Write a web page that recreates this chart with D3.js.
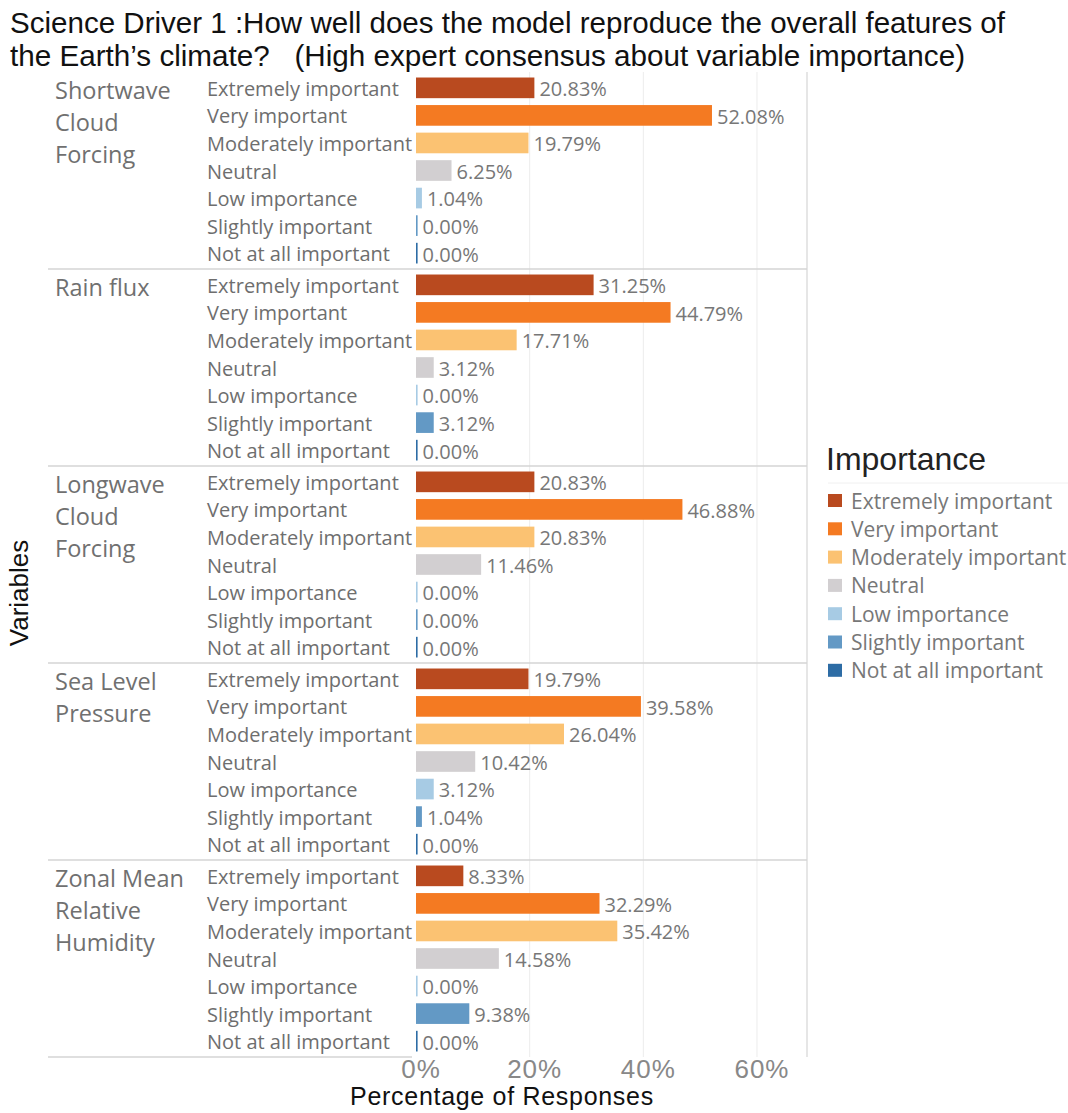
<!DOCTYPE html>
<html>
<head>
<meta charset="utf-8">
<script src="https://cdn.jsdelivr.net/npm/d3@7"></script>
<style>
  html, body { margin: 0; padding: 0; background: #fff; }
  svg { display: block; }
</style>
</head>
<body>
<div id="chart"></div>
<script>
// Survey responses: share of experts rating each variable's importance
const titleLines = [
  "Science Driver 1 :How well does the model reproduce the overall features of",
  "the Earth\u2019s climate?   (High expert consensus about variable importance)"
];
const variables = [
  "Shortwave Cloud Forcing",
  "Rain flux",
  "Longwave Cloud Forcing",
  "Sea Level Pressure",
  "Zonal Mean Relative Humidity"
];
const variableLabelLines = [
  ["Shortwave", "Cloud", "Forcing"],
  ["Rain flux"],
  ["Longwave", "Cloud", "Forcing"],
  ["Sea Level", "Pressure"],
  ["Zonal Mean", "Relative", "Humidity"]
];
const importanceLevels = [
  "Extremely important",
  "Very important",
  "Moderately important",
  "Neutral",
  "Low importance",
  "Slightly important",
  "Not at all important"
];
const importanceColors = [
  "#b94a1f", "#f47a22", "#fbc272", "#d2cfd1", "#a7cbe4", "#6399c5", "#2d6ca5"
];
// percentage of responses, one row per variable, columns follow importanceLevels
const shortwaveValues = [20.83, 52.08, 19.79, 6.25, 1.04, 0.00, 0.00];
const rainFluxValues = [31.25, 44.79, 17.71, 3.12, 0.00, 3.12, 0.00];
const longwaveValues = [20.83, 46.88, 20.83, 11.46, 0.00, 0.00, 0.00];
const seaLevelPressureValues = [19.79, 39.58, 26.04, 10.42, 3.12, 1.04, 0.00];
const relHumidityValues = [8.33, 32.29, 35.42, 14.58, 0.00, 9.38, 0.00];
const seriesValues = [shortwaveValues, rainFluxValues, longwaveValues, seaLevelPressureValues, relHumidityValues];
const xTicks = [0, 20, 40, 60];
const xTickLabels = ["0%", "20%", "40%", "60%"];

const W = 1068, H = 1113;
const plot = { left: 416, right: 807, top: 72, bottom: 1057 };
const panelLeft = 48;

const svg = d3.select("#chart").append("svg")
  .attr("width", W).attr("height", H)
  .style("background", "#fff");

const x = d3.scaleLinear().domain([0, 68.8]).range([plot.left, plot.right]);
const yGroup = d3.scaleBand().domain(variables).range([plot.top, plot.bottom]);
const yRow = d3.scaleBand().domain(importanceLevels).range([0, yGroup.bandwidth()])
  .paddingInner(0.25).paddingOuter(0.2);
const color = d3.scaleOrdinal().domain(importanceLevels).range(importanceColors);

// Title
svg.append("g").selectAll("text").data(titleLines).join("text")
  .attr("x", 10)
  .attr("y", (d, i) => 33 + i * 33)
  .attr("textLength", (d, i) => i === 0 ? 995 : 955)
  .attr("lengthAdjust", "spacingAndGlyphs")
  .style("white-space", "pre")
  .style("font-family", "'Liberation Sans', Arial, sans-serif")
  .style("font-size", "29px")
  .style("fill", "#111")
  .text(d => d);

// Vertical gridlines
svg.append("g").selectAll("line").data(xTicks.filter(t => t > 0)).join("line")
  .attr("x1", d => x(d)).attr("x2", d => x(d))
  .attr("y1", plot.top).attr("y2", plot.bottom)
  .style("stroke", "#ececec").style("stroke-width", 1);

// Right border of the plot area
svg.append("line")
  .attr("x1", plot.right).attr("x2", plot.right)
  .attr("y1", plot.top).attr("y2", plot.bottom)
  .style("stroke", "#d6d6d6").style("stroke-width", 1.2);

// Separators between variables
svg.append("g").selectAll("line").data(variables.slice(1)).join("line")
  .attr("x1", panelLeft).attr("x2", plot.right)
  .attr("y1", d => yGroup(d)).attr("y2", d => yGroup(d))
  .style("stroke", "#d4d4d4").style("stroke-width", 1.5);
svg.append("line")
  .attr("x1", panelLeft).attr("x2", plot.left - 4)
  .attr("y1", plot.bottom).attr("y2", plot.bottom)
  .style("stroke", "#d4d4d4").style("stroke-width", 1.5);

const groups = svg.append("g").selectAll("g.var").data(variables).join("g")
  .attr("class", "var")
  .attr("transform", d => `translate(0,${yGroup(d)})`);

// Variable names
groups.each(function (v, gi) {
  d3.select(this).append("g").selectAll("text").data(variableLabelLines[gi]).join("text")
    .attr("x", 55)
    .attr("y", (d, i) => 27 + i * 32)
    .style("font-family", "'Open Sans', sans-serif")
    .style("font-size", "23.5px")
    .style("fill", "#707070")
    .text(d => d);
});

// Importance row labels
groups.append("g").selectAll("text").data(importanceLevels).join("text")
  .attr("x", 207)
  .attr("y", d => yRow(d) + yRow.bandwidth() / 2 + 1)
  .attr("dy", "0.35em")
  .style("font-family", "'Open Sans', sans-serif")
  .style("font-size", "20px")
  .style("fill", "#6e6e6e")
  .text(d => d);

// Bars
groups.each(function (v, gi) {
  const rows = importanceLevels.map((lvl, i) => ({ lvl, value: seriesValues[gi][i] }));
  const g = d3.select(this);
  g.append("g").selectAll("rect").data(rows).join("rect")
    .attr("x", x(0))
    .attr("y", d => yRow(d.lvl))
    .attr("width", d => Math.max(x(d.value) - x(0), 1.6))
    .attr("height", yRow.bandwidth())
    .style("fill", d => color(d.lvl));
  g.append("g").selectAll("text").data(rows).join("text")
    .attr("x", d => Math.max(x(d.value) - x(0), 1.6) + x(0) + 5)
    .attr("y", d => yRow(d.lvl) + yRow.bandwidth() / 2 + 1)
    .attr("dy", "0.37em")
    .style("font-family", "'Open Sans', sans-serif")
    .style("font-size", "20px")
    .style("fill", "#777")
    .text(d => d.value.toFixed(2) + "%");
});

// X axis tick labels
svg.append("g").selectAll("text").data(xTicks).join("text")
  .attr("x", d => x(d) + 5)
  .attr("y", 1078)
  .attr("text-anchor", "middle")
  .style("font-family", "'Liberation Sans', Arial, sans-serif")
  .style("font-size", "26px")
  .style("letter-spacing", "1px")
  .style("fill", "#888")
  .text((d, i) => xTickLabels[i]);

// Axis titles
svg.append("text")
  .attr("x", 502).attr("y", 1105)
  .attr("text-anchor", "middle")
  .style("font-family", "'Liberation Sans', Arial, sans-serif")
  .style("font-size", "25px")
  .style("letter-spacing", "0.7px")
  .style("fill", "#111")
  .text("Percentage of Responses");

svg.append("text")
  .attr("transform", "translate(28,593) rotate(-90)")
  .attr("text-anchor", "middle")
  .style("font-family", "'Liberation Sans', Arial, sans-serif")
  .style("font-size", "26px")
  .style("fill", "#111")
  .text("Variables");

// Legend
const legend = svg.append("g").attr("transform", "translate(826,0)");
legend.append("text")
  .attr("x", 0).attr("y", 470)
  .style("font-family", "'Liberation Sans', Arial, sans-serif")
  .style("font-size", "32px")
  .style("fill", "#222")
  .text("Importance");
legend.append("line")
  .attr("x1", 2).attr("x2", 242).attr("y1", 483).attr("y2", 483)
  .style("stroke", "#f0f0f0");
const items = legend.selectAll("g.item").data(importanceLevels).join("g")
  .attr("class", "item")
  .attr("transform", (d, i) => `translate(0,${501 + i * 28.3})`);
items.append("rect")
  .attr("x", 2).attr("y", -7).attr("width", 14).attr("height", 13)
  .style("fill", d => color(d));
items.append("text")
  .attr("x", 25).attr("y", 0).attr("dy", "0.36em")
  .style("font-family", "'Open Sans', sans-serif")
  .style("font-size", "21px")
  .style("fill", "#777")
  .text(d => d);
</script>
</body>
</html>
